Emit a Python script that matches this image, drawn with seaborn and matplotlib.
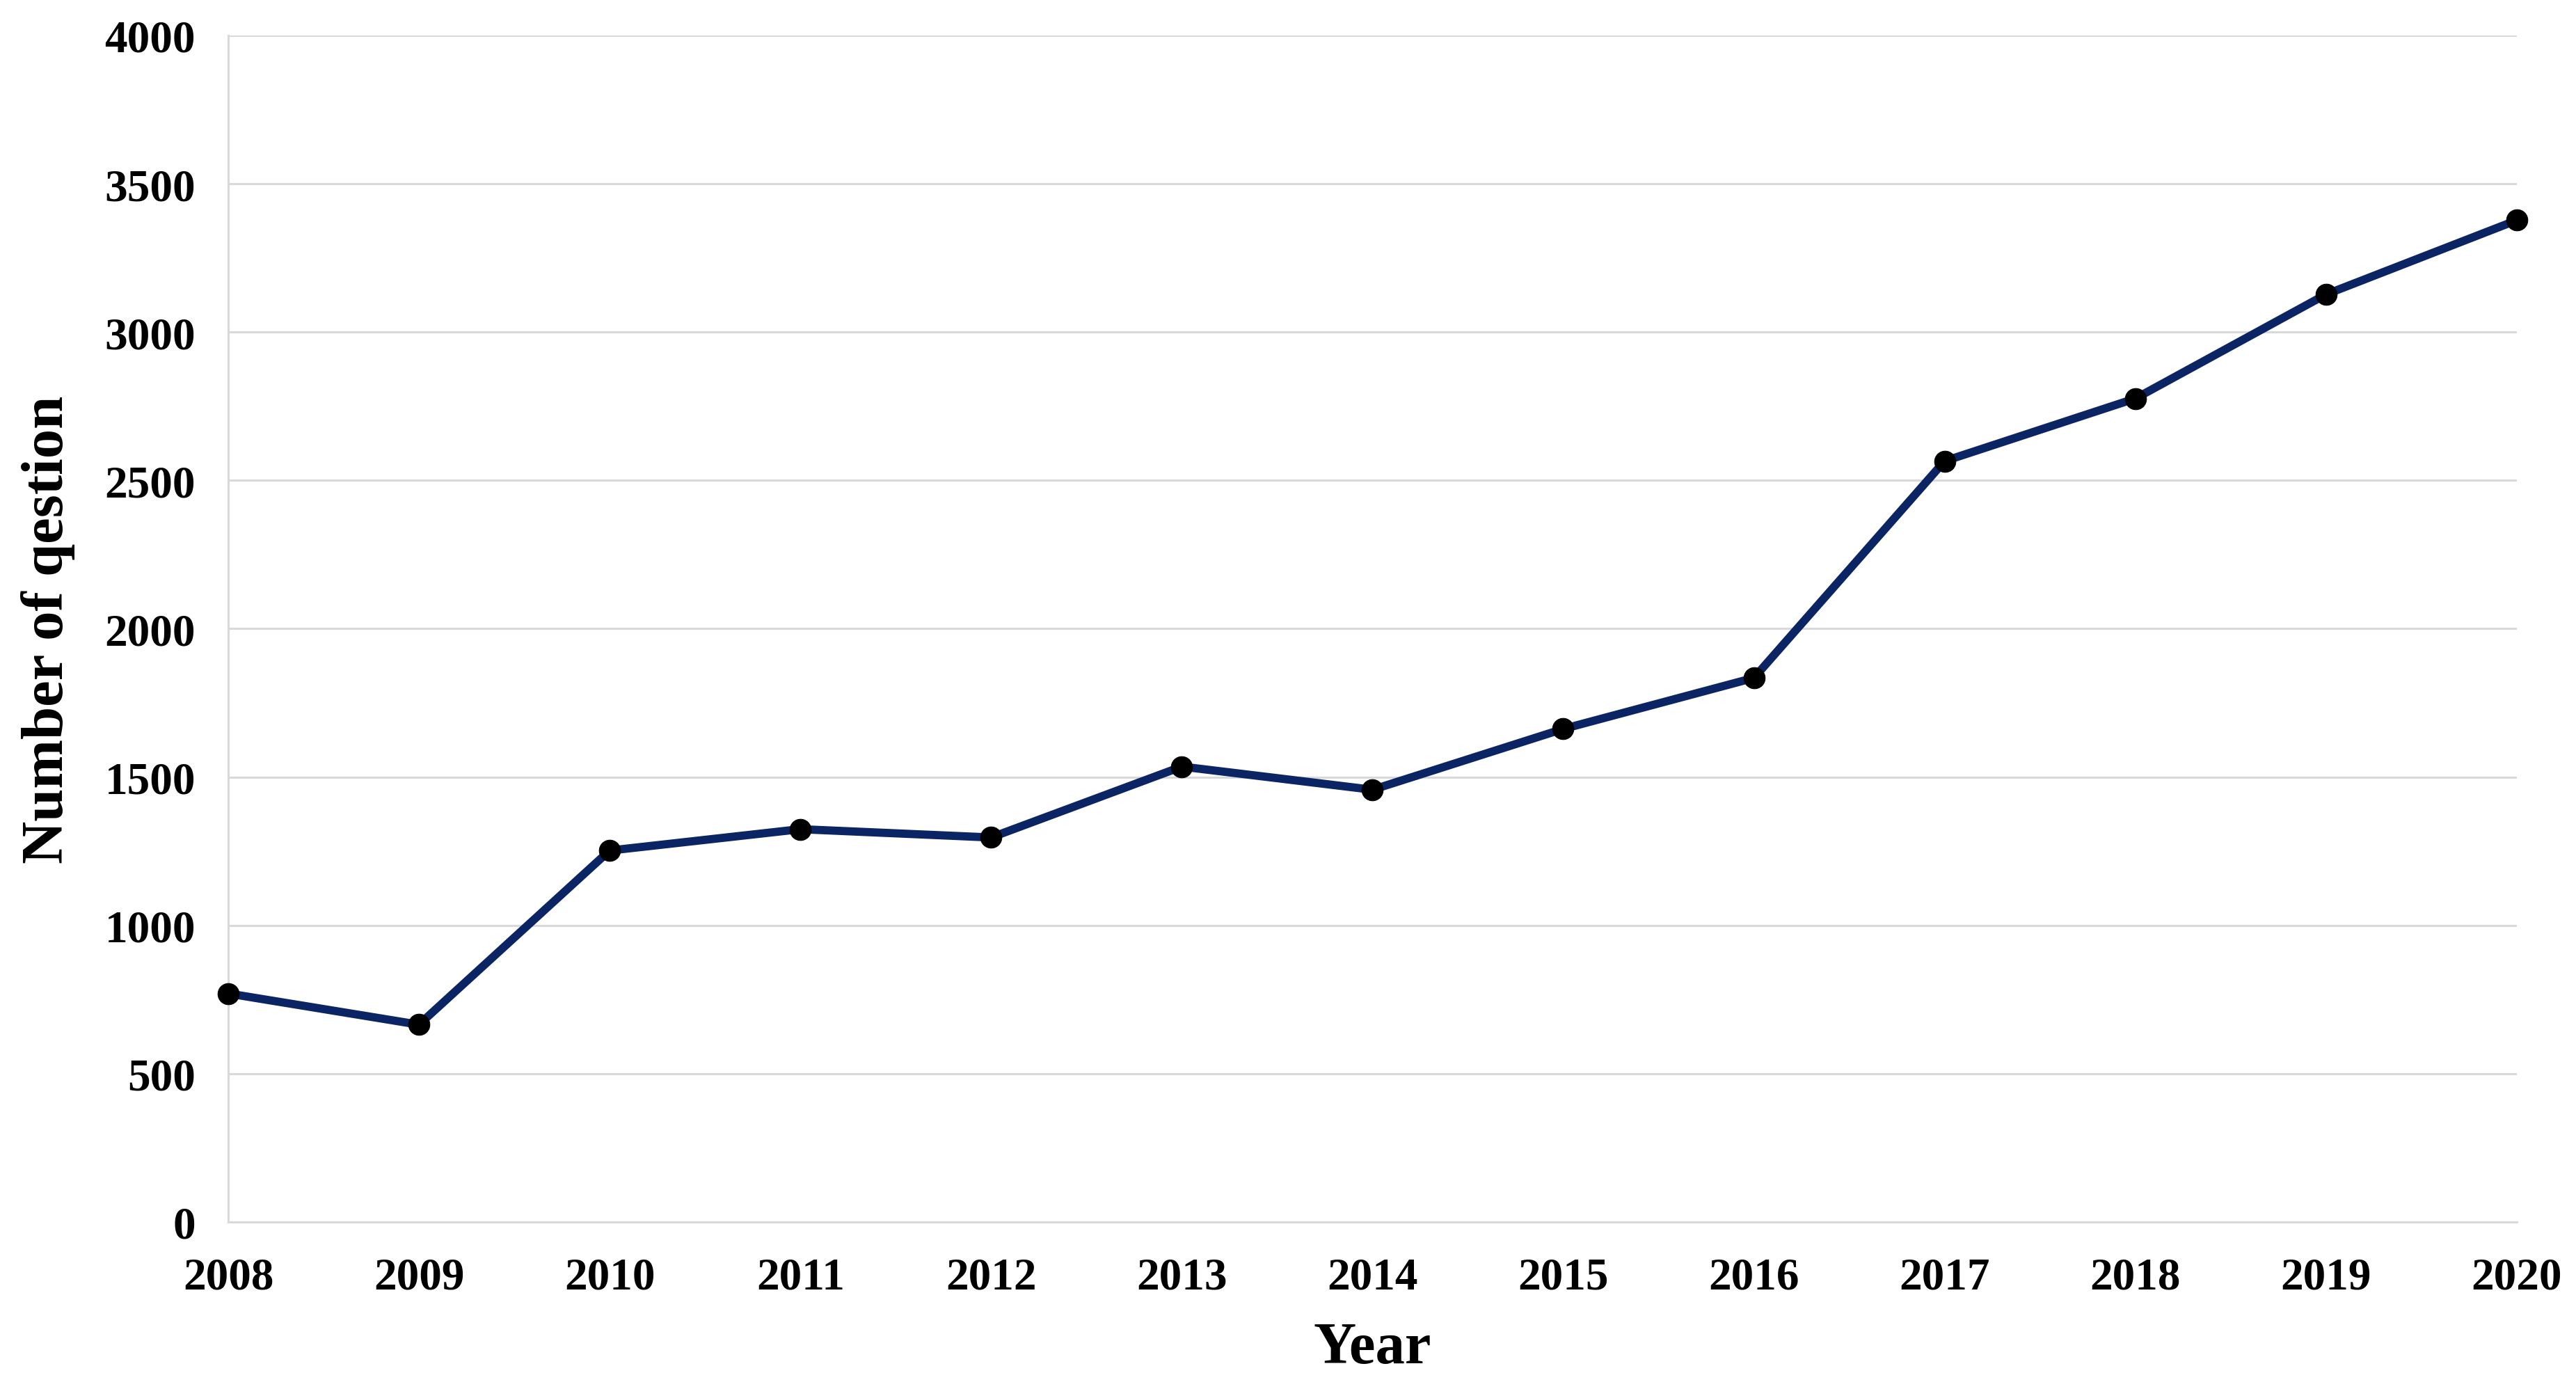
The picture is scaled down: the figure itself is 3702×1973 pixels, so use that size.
import pandas as pd
import numpy as np

import matplotlib.pyplot as plt
import seaborn as sns

years = [2008, 2009, 2010, 2011, 2012, 2013, 2014, 2015, 2016, 2017, 2018, 2019, 2020]
questions = [770, 665, 1252, 1324, 1296, 1535, 1457, 1662, 1834, 2565, 2776, 3127, 3377]
y_ticks = [0, 500, 1000, 1500, 2000, 2500, 3000, 3500, 4000]

df = pd.DataFrame({'Year': years, 'Questions': questions})

sns.set_style('white')
plt.rcParams['font.family'] = ['Liberation Serif', 'DejaVu Serif']
plt.rcParams['font.weight'] = 'bold'
plt.rcParams['text.color'] = 'black'
plt.rcParams['axes.labelcolor'] = 'black'
plt.rcParams['xtick.color'] = 'black'
plt.rcParams['ytick.color'] = 'black'

fig = plt.figure(figsize=(37.02, 19.74), dpi=100)
ax = fig.add_axes([0.0886, 0.110, 0.8884, 0.8637])

sns.lineplot(data=df, x='Year', y='Questions', ax=ax, color='#0b2463',
             linewidth=8.5, marker='o', markersize=22, markerfacecolor='black',
             markeredgecolor='black', clip_on=False, zorder=5)

ax.set_xlim(2008, 2020)
ax.set_ylim(0, 4000)
ax.set_xticks(years)
ax.set_yticks(y_ticks)
ax.yaxis.grid(True, color='#d9d9d9', linewidth=2.2)
ax.xaxis.grid(False)
ax.set_axisbelow(True)

for side in ['top', 'right']:
    ax.spines[side].set_visible(False)
for side in ['left', 'bottom']:
    ax.spines[side].set_color('#d9d9d9')
    ax.spines[side].set_linewidth(2.2)

ax.tick_params(axis='both', length=0, labelsize=47, colors='black')
ax.tick_params(axis='x', pad=36)
ax.tick_params(axis='y', pad=34)
for lbl in ax.get_xticklabels() + ax.get_yticklabels():
    lbl.set_fontweight('bold')

ax.set_xlabel('Year', fontsize=61, fontweight='bold', labelpad=24, color='black')
ax.set_ylabel('Number of qestion', fontsize=61, fontweight='bold', labelpad=30, color='black')

fig.savefig('out.png', dpi=100)
